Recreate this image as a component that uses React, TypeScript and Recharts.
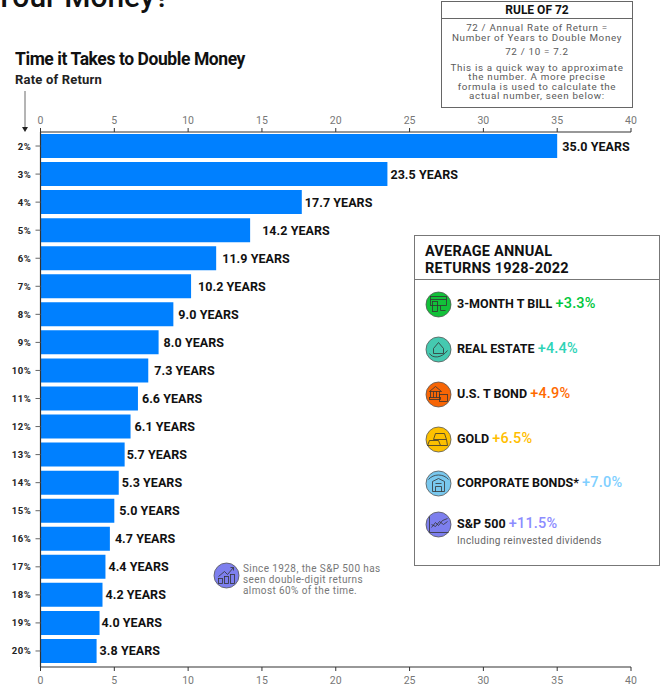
import { BarChart, Bar, XAxis, YAxis, LabelList } from 'recharts';

const rates = ['2%', '3%', '4%', '5%', '6%', '7%', '8%', '9%', '10%', '11%', '12%', '13%', '14%', '15%', '16%', '17%', '18%', '19%', '20%'];
const years = [35.0, 23.5, 17.7, 14.2, 11.9, 10.2, 9.0, 8.0, 7.3, 6.6, 6.1, 5.7, 5.3, 5.0, 4.7, 4.4, 4.2, 4.0, 3.8];
const xTicks = [0, 5, 10, 15, 20, 25, 30, 35, 40];

// hand-placed gap between each bar end and its label
const labelGaps = [5, 3, 3, 12, 6, 7, 5, 5, 6, 4, 4, 2, 3, 5, 5, 3, 3, 2, 3];

const assetNames = ['3-MONTH T BILL', 'REAL ESTATE', 'U.S. T BOND', 'GOLD', 'CORPORATE BONDS*', 'S&P 500'];
const assetReturns = ['+3.3%', '+4.4%', '+4.9%', '+6.5%', '+7.0%', '+11.5%'];
const assetColors = ['#00c73c', '#2ed3b7', '#ff6a00', '#ffbe00', '#80cfff', '#8c8cff'];
const assetFills = ['#12c139', '#45c9b0', '#f76505', '#fcc000', '#79c8ee', '#7d7fee'];
const assetRowY = [304, 349, 394, 439, 483, 524];

const rows = rates.map((rate, i) => ({ rate, years: years[i] }));
const font = 'Roboto, sans-serif';
const barHeight = 24;

function YearsLabel(props: any) {
  const { x, y, width, height, value, index } = props;
  return (
    <text x={x + width + labelGaps[index]} y={y + height / 2 + 4.5} fontFamily={font} fontSize={12.5} fontWeight={700} letterSpacing={0.05} fill="#111">
      {value.toFixed(1)} YEARS
    </text>
  );
}

function RateTick(props: any) {
  const { x, y, payload } = props;
  return (
    <text x={x - 2} y={y + 3.5} textAnchor="end" fontFamily={font} fontSize={9.5} fontWeight={700} letterSpacing={0.6} fill="#222">
      {payload.value}
    </text>
  );
}

// small line glyphs inside the round badges
function Glyph({ index }: { index: number }) {
  const s = { fill: 'none', stroke: '#333', strokeWidth: 0.8 };
  if (index === 0) return <g {...s}><rect x={-8} y={-8} width={16} height={9} /><rect x={-6} y={-3} width={5} height={10} /><path d="M-8 -5H8M2 1v5h5" /></g>;
  if (index === 1) return <g {...s}><path d="M-5 -1L0 -7L5 -1V4H-5ZM-9 4C-6 9 3 9 9 1" /></g>;
  if (index === 2) return <g {...s}><path d="M-9 -3L-3 -8L3 -3ZM-8 3V-3M-5 3V-3M-2 3V-3M1 3V-3" /><rect x={-9} y={3} width={11} height={2} /><rect x={1} y={0} width={8} height={7} /></g>;
  if (index === 3) return <g {...s}><path d="M-3 -6H6L8 0H-5ZM-9 1H0L2 6H-11ZM2 6H9L8 0" /></g>;
  if (index === 4) return <g {...s}><path d="M-10 -4C-5 -10 5 -10 10 -4M-6 8V-2L0 -5L6 -2V8ZM-3 8V3H3V8M-3 0H3" /></g>;
  if (index === 5) return <g {...s}><path d="M-9 -8V8H10M-7 3L-3 -2L0 1L4 -4L9 -6M-7 0L-3 2L1 -3L5 0L9 -3" /></g>;
  return <g {...s}><path d="M-8 1L-2 -4L1 -1L7 -8M4 -8H7V-5" /><rect x={-8} y={3} width={4} height={5} /><rect x={-2} y={1} width={4} height={7} /><rect x={4} y={-1} width={4} height={9} /></g>;
}

function Badge({ cx, cy, r, fill, index }: { cx: number; cy: number; r: number; fill: string; index: number }) {
  return (
    <svg style={{ position: 'absolute', left: cx - r - 1, top: cy - r - 1 }} width={2 * r + 2} height={2 * r + 2} viewBox={`${-r - 1} ${-r - 1} ${2 * r + 2} ${2 * r + 2}`}>
      <circle r={r} fill={fill} stroke="#555" strokeWidth={0.8} />
      <Glyph index={index} />
    </svg>
  );
}

const abs = (left: number, top: number, extra: React.CSSProperties = {}): React.CSSProperties => ({
  position: 'absolute', left, top, whiteSpace: 'nowrap', ...extra,
});

export default function App() {
  return (
    <div style={{ position: 'fixed', left: 0, top: 0, width: 668, height: 687, overflow: 'hidden', background: '#fff', fontFamily: font }}>
      <div style={abs(-5, -21, { fontSize: 30, fontWeight: 500, color: '#111', lineHeight: '36px' })}>Your Money?</div>
      <div style={abs(15, 49, { fontSize: 17.5, fontWeight: 700, color: '#111', lineHeight: '20px', letterSpacing: -0.42 })}>Time it Takes to Double Money</div>
      <div style={abs(15, 72, { fontSize: 13, fontWeight: 700, color: '#222', lineHeight: '16px', letterSpacing: 0.2 })}>Rate of Return</div>

      {/* negative barGap stacks the unfilled series exactly behind the visible one */}
      <BarChart width={668} height={687} data={rows} layout="vertical" margin={{ top: 102, right: 37, bottom: 0, left: 0.5 }} barSize={barHeight} barGap={-barHeight}>
        <XAxis xAxisId="top" orientation="top" type="number" domain={[0, 40]} ticks={xTicks} height={30} interval={0} tickMargin={4}
          tick={{ fontSize: 10.5, fill: '#777', fontFamily: font }} tickSize={4} tickLine={{ stroke: '#333' }} axisLine={{ stroke: '#333', strokeWidth: 1.2 }} />
        <XAxis xAxisId="bottom" orientation="bottom" type="number" domain={[0, 40]} ticks={xTicks} height={20} interval={0} tickMargin={6}
          tick={{ fontSize: 10.5, fill: '#777', fontFamily: font }} tickSize={4} tickLine={{ stroke: '#333' }} axisLine={{ stroke: '#333', strokeWidth: 1.2 }} />
        <YAxis type="category" dataKey="rate" width={40} interval={0} padding={{ top: 0, bottom: 2 }} tick={<RateTick />} tickSize={5}
          tickLine={{ stroke: '#666' }} axisLine={{ stroke: '#333', strokeWidth: 1.2 }} />
        <Bar xAxisId="bottom" dataKey="years" fill="none" isAnimationActive={false} />
        <Bar xAxisId="top" dataKey="years" fill="#0080ff" isAnimationActive={false}>
          <LabelList dataKey="years" content={<YearsLabel />} />
        </Bar>
      </BarChart>

      <svg style={{ position: 'absolute', left: 20, top: 88 }} width={10} height={46}>
        <line x1={5} y1={3} x2={5} y2={40} stroke="#444" strokeWidth={0.8} />
        <path d="M2 39H8L5 44Z" fill="#222" />
      </svg>

      {/* rule of 72 note */}
      <div style={abs(441, 1, { width: 190, height: 105, border: '1px solid #666', textAlign: 'center', color: '#5a5a5a', fontSize: 9.8, letterSpacing: 0.68, lineHeight: '9.5px' })}>
        <div style={{ height: 16, borderBottom: '1px solid #666', fontSize: 12, fontWeight: 700, color: '#111', letterSpacing: 0, lineHeight: '17px' }}>RULE OF 72</div>
        <div style={{ marginTop: 4 }}>72 / Annual Rate of Return =<br />Number of Years to Double Money</div>
        <div style={{ marginTop: 5 }}>72 / 10 = 7.2</div>
        <div style={{ marginTop: 6 }}>This is a quick way to approximate<br />the number. A more precise<br />formula is used to calculate the<br />actual number, seen below:</div>
      </div>

      {/* average returns panel */}
      <div style={abs(414, 235, { width: 244, height: 329, border: '1px solid #777' })}>
        <div style={{ height: 44, borderBottom: '1px solid #777', padding: '7px 0 0 10px', boxSizing: 'border-box', fontSize: 14.5, fontWeight: 700, color: '#111', lineHeight: '17px', letterSpacing: 0.2 }}>
          AVERAGE ANNUAL<br />RETURNS 1928-2022
        </div>
      </div>
      {assetNames.map((name, i) => (
        <div key={name}>
          <Badge cx={438} cy={assetRowY[i]} r={12.5} fill={assetFills[i]} index={i} />
          <div style={abs(457, assetRowY[i] - 10, { lineHeight: '20px', fontSize: 12.5, fontWeight: 700, color: '#111' })}>
            {name} <span style={{ fontSize: 14.5, fontWeight: 500, color: assetColors[i], letterSpacing: 0.2 }}>{assetReturns[i]}</span>
          </div>
        </div>
      ))}
      <div style={abs(457, 534, { fontSize: 10, color: '#666', letterSpacing: 0.35, lineHeight: '13px' })}>Including reinvested dividends</div>

      {/* S&P 500 callout */}
      <Badge cx={226} cy={575} r={12.5} fill={assetFills[5]} index={6} />
      <div style={abs(243, 563, { fontSize: 10, color: '#777', letterSpacing: 0.4, lineHeight: '11px' })}>
        Since 1928, the S&amp;P 500 has<br />seen double-digit returns<br />almost 60% of the time.
      </div>
    </div>
  );
}
